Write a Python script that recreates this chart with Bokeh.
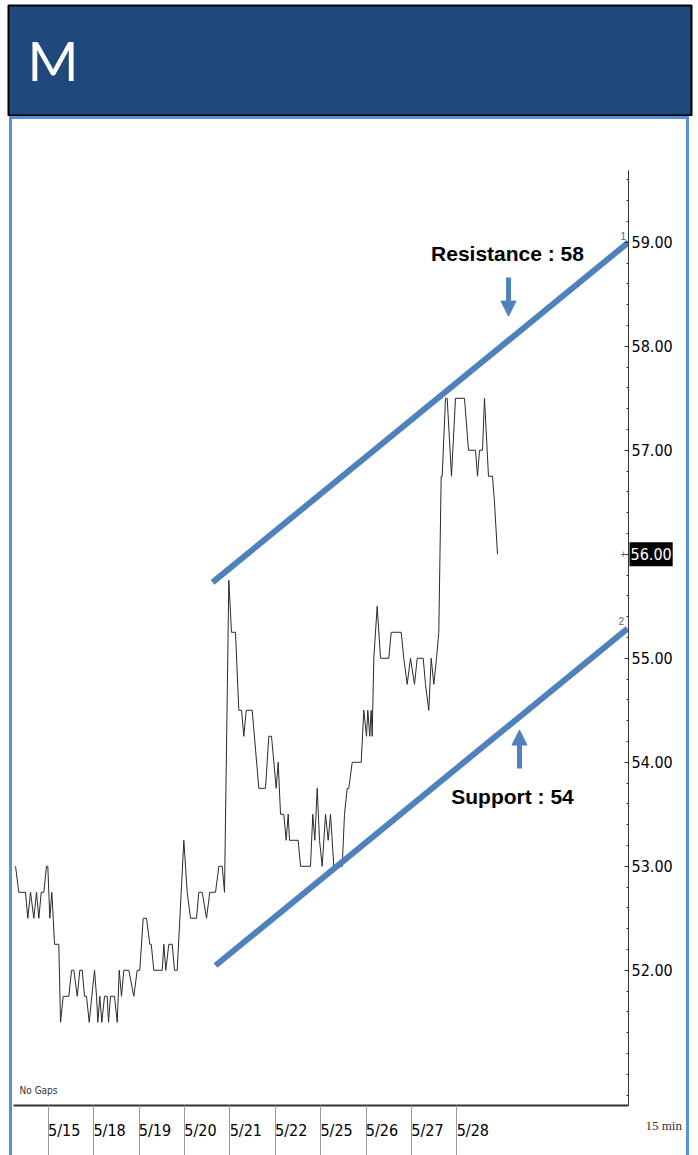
from bokeh.plotting import figure
from bokeh.layouts import column, row
from bokeh.models import (Range1d, FixedTicker, NumeralTickFormatter,
                          Label, BoxAnnotation, Arrow, NormalHead, Spacer)
from bokeh.embed import file_html
from bokeh.resources import INLINE

# ---------------- data ----------------
dates = ["5/15", "5/18", "5/19", "5/20", "5/21", "5/22", "5/25", "5/26", "5/27", "5/28"]
day_start = [0, 1, 2, 3, 4, 5, 6, 7, 8, 9]          # trading-day index of each date
price_ticks = [52, 53, 54, 55, 56, 57, 58, 59]

# 15-min price path (x = trading days since 5/15 open)
t = [-0.722, -0.650, -0.502, -0.452, -0.392, -0.319, -0.260, -0.209, -0.156, -0.099,
     -0.040, -0.011, 0.033, 0.077, 0.108, 0.137, 0.231, 0.269, 0.328, 0.452,
     0.511, 0.562, 0.637, 0.694, 0.747, 0.797, 0.841, 0.901, 0.958, 1.018,
     1.062, 1.090, 1.134, 1.178, 1.238, 1.297, 1.326, 1.370, 1.458, 1.518,
     1.562, 1.612, 1.663, 1.773, 1.883, 1.958, 2.015, 2.090, 2.163, 2.236,
     2.267, 2.324, 2.509, 2.544, 2.588, 2.654, 2.729, 2.780, 2.839, 2.985,
     3.059, 3.132, 3.264, 3.315, 3.390, 3.485, 3.557, 3.683, 3.756, 3.830,
     3.881, 3.976, 4.035, 4.123, 4.196, 4.256, 4.306, 4.359, 4.491, 4.637,
     4.784, 4.857, 4.916, 5.020, 5.064, 5.115, 5.187, 5.240, 5.284, 5.313,
     5.504, 5.555, 5.775, 5.826, 5.870, 5.923, 5.974, 6.033, 6.106, 6.165,
     6.216, 6.289, 6.474, 6.524, 6.584, 6.619, 6.694, 6.892, 6.949, 7.009,
     7.037, 7.081, 7.112, 7.134, 7.170, 7.244, 7.317, 7.500, 7.553, 7.773,
     7.830, 7.905, 7.978, 8.066, 8.126, 8.258, 8.308, 8.381, 8.434, 8.491,
     8.551, 8.601, 8.654, 8.676, 8.749, 8.786, 8.881, 8.969, 9.167, 9.256,
     9.410, 9.454, 9.498, 9.564, 9.608, 9.696, 9.784, 9.828, 9.894]
price = [53.0, 52.75, 52.75, 52.5, 52.75, 52.5, 52.75, 52.5, 52.75, 52.75,
         53.0, 53.0, 52.5, 52.75, 52.5, 52.25, 52.25, 51.5, 51.75, 51.75,
         52.0, 52.0, 51.75, 52.0, 52.0, 51.75, 51.75, 51.5, 51.75, 52.0,
         51.75, 51.5, 51.75, 51.5, 51.75, 51.75, 51.5, 51.75, 51.75, 51.5,
         52.0, 51.75, 52.0, 52.0, 51.75, 52.0, 52.0, 52.5, 52.5, 52.25,
         52.25, 52.0, 52.0, 52.25, 52.0, 52.25, 52.25, 52.0, 52.0, 53.25,
         52.75, 52.5, 52.5, 52.75, 52.75, 52.5, 52.75, 52.75, 53.0, 53.0,
         52.75, 55.75, 55.25, 55.25, 54.5, 54.5, 54.25, 54.5, 54.5, 53.75,
         53.75, 54.25, 54.25, 53.75, 54.0, 53.5, 53.5, 53.25, 53.5, 53.25,
         53.25, 53.0, 53.0, 53.5, 53.25, 53.75, 53.25, 53.0, 53.5, 53.25,
         53.5, 53.0, 53.0, 53.5, 53.75, 53.75, 54.0, 54.0, 54.5, 54.25,
         54.5, 54.25, 54.5, 54.25, 55.0, 55.5, 55.0, 55.0, 55.25, 55.25,
         55.0, 54.75, 55.0, 54.75, 55.0, 55.0, 54.75, 54.5, 55.0, 54.75,
         55.0, 55.25, 56.75, 56.75, 57.5, 57.5, 56.75, 57.5, 57.5, 57.0,
         57.0, 56.75, 57.0, 57.0, 57.5, 56.75, 56.75, 56.5, 56.0]
assert len(t) == len(price)

# trend channel (end points)
res_x, res_y = [3.617, 12.78], [55.73, 59.0]
sup_x, sup_y = [3.683, 12.758], [52.046, 55.286]
resistance_level, support_level = 58, 54
last_price = 56.00
title_text = "M"

# ---------------- styling ----------------
BLUE = "#4F81BD"
FRAME_BLUE = "#5B8FD6"
HEAD_BLUE = "#1F497D"
AXFONT = "DejaVu Sans Condensed, Liberation Sans"

# ---------- header ----------
hp = figure(width=698, height=116, output_backend="svg", toolbar_location=None, title=None,
            x_range=Range1d(0, 698), y_range=Range1d(116, 0),
            x_axis_type=None, y_axis_type=None, min_border=0)
hp.outline_line_color = None
hp.xgrid.visible = False
hp.ygrid.visible = False
hp.add_layout(BoxAnnotation(left=8, right=691, top=5, bottom=115,
                            fill_color=HEAD_BLUE, fill_alpha=1.0,
                            line_color="black", line_alpha=1.0, line_width=2))
hp.add_layout(Label(x=27, y=59, text=title_text, text_color="white",
                    text_font="Lato", text_font_size="55px",
                    text_baseline="middle"))

# ---------- chart ----------
p = figure(width=674, height=1036, output_backend="svg", toolbar_location=None, title=None,
           x_range=Range1d(-0.767, 12.78), y_range=Range1d(50.70, 59.69),
           y_axis_location="right",
           min_border_left=1, min_border_right=58, min_border_top=51, min_border_bottom=50,
           background_fill_color="white", border_fill_color="white")
p.outline_line_color = None
p.xgrid.visible = False
p.ygrid.visible = False

# y axis (right): labelled every 1.00, dots every 0.20
ya = p.yaxis[0]
minor_y = [round(50.8 + 0.2 * i, 1) for i in range(45)]
ya.ticker = FixedTicker(ticks=price_ticks, minor_ticks=minor_y)
ya.formatter = NumeralTickFormatter(format="0.00")
ya.major_tick_in = 4
ya.major_tick_out = 0
ya.minor_tick_in = 2
ya.minor_tick_out = 0
ya.major_label_standoff = 3
ya.axis_line_color = "#333333"
ya.major_tick_line_color = "#333333"
ya.minor_tick_line_color = "#333333"
ya.major_label_text_font = AXFONT
ya.major_label_text_font_size = "16px"
ya.major_label_text_color = "black"

# x axis (dates): labels just right of the day separators
lab_off = 0.35
xa = p.xaxis[0]
xa.ticker = FixedTicker(ticks=[d + lab_off for d in day_start], minor_ticks=day_start)
xa.major_label_overrides = {d + lab_off: s for d, s in zip(day_start, dates)}
xa.major_tick_line_color = None
xa.major_tick_in = 0
xa.major_tick_out = 0
xa.minor_tick_in = 0
xa.minor_tick_out = 50
xa.minor_tick_line_color = "#999999"
xa.major_label_standoff = -35
xa.axis_line_color = "#333333"
xa.axis_line_width = 2
xa.major_label_text_font = AXFONT
xa.major_label_text_font_size = "16px"
xa.major_label_text_color = "black"

# price + channel
p.line(t, price, line_color="#2a2a2a", line_width=1)
p.line(res_x, res_y, line_color=BLUE, line_width=6)
p.line(sup_x, sup_y, line_color=BLUE, line_width=6)

# arrows and annotations
p.add_layout(Arrow(end=NormalHead(size=15, fill_color=BLUE, line_color=BLUE),
                   x_start=10.137, y_start=58.66, x_end=10.137, y_end=58.29,
                   line_color=BLUE, line_width=5))
p.add_layout(Arrow(end=NormalHead(size=15, fill_color=BLUE, line_color=BLUE),
                   x_start=10.379, y_start=53.94, x_end=10.379, y_end=54.31,
                   line_color=BLUE, line_width=5))
p.add_layout(Label(x=10.115, y=58.89, text=f"Resistance : {resistance_level}",
                   text_font="Liberation Sans", text_font_style="bold", text_font_size="21px",
                   text_align="center", text_baseline="middle", text_color="black"))
p.add_layout(Label(x=10.225, y=53.67, text=f"Support : {support_level}",
                   text_font="Liberation Sans", text_font_style="bold", text_font_size="21px",
                   text_align="center", text_baseline="middle", text_color="black"))

# small markers near the axis
p.add_layout(Label(x=12.78, y=last_price, x_offset=-8, text="+", text_font_size="10px",
                   text_color="#666666", text_baseline="middle"))
p.add_layout(Label(x=res_x[1], y=res_y[1], x_offset=-8, y_offset=2, text="1",
                   text_font_size="10px", text_color="#666666", text_baseline="bottom"))
p.add_layout(Label(x=sup_x[1], y=sup_y[1], x_offset=-9, y_offset=4, text="2",
                   text_font_size="10px", text_color="#666666", text_baseline="bottom"))
p.add_layout(Label(x=-0.634, y=50.84, text="No Gaps", text_font=AXFONT,
                   text_font_size="10px", text_color="#333333", text_baseline="middle"))

# labels that sit outside the plotting frame (placed in the top side panel so that
# they are not clipped; positions still come from the data scales)
p.add_layout(Label(x=12.78, y=last_price, x_offset=1, text=f"{last_price:.2f}",
                   text_font=AXFONT, text_font_size="16px", text_color="white",
                   text_align="left", text_baseline="middle",
                   background_fill_color="black",
                   padding={"left": 1, "right": 1, "top": 6, "bottom": 6}), "above")
p.add_layout(Label(x=13.154, y=50.507, text="15 min", text_font="Liberation Serif",
                   text_font_size="13px", text_color="#333333",
                   text_baseline="middle"), "above")


def blue(w, h):
    return Spacer(width=w, height=h, styles={"background-color": FRAME_BLUE})


body = row(Spacer(width=9, height=1036), blue(3, 1036), p, blue(3, 1036),
           Spacer(width=9, height=1036))
topline = row(Spacer(width=9, height=3), blue(680, 3), Spacer(width=9, height=3))
page = column(hp, topline, body)

open("out.html", "w").write(file_html(page, INLINE))
